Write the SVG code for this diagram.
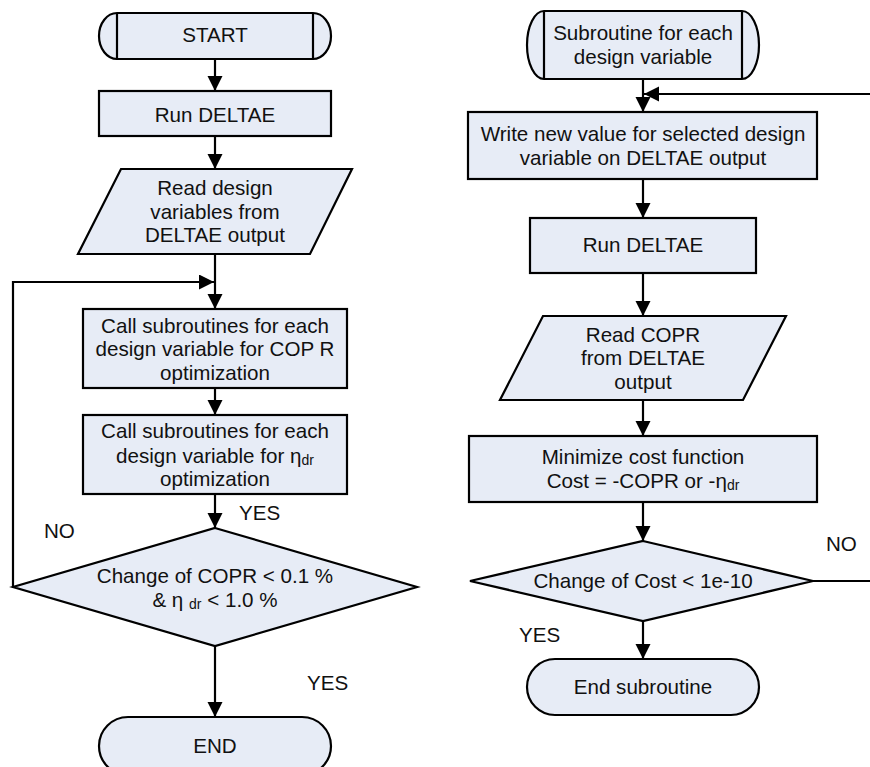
<svg xmlns="http://www.w3.org/2000/svg" width="870" height="767" viewBox="0 0 870 767">
<defs>
<style>
.s{fill:#E7ECF6;stroke:#000;stroke-width:2.2}
.c{fill:none;stroke:#000;stroke-width:2.2}
text{font-family:"Liberation Sans",Arial,sans-serif;font-size:20.6px;fill:#111}
.m{text-anchor:middle}
.sub{font-size:14px}
</style>
<marker id="ah" markerUnits="userSpaceOnUse" markerWidth="16" markerHeight="16" refX="15" refY="7.5" orient="auto">
<path d="M0,0 L15,7.5 L0,15 Z" fill="#000"/>
</marker>
</defs>
<rect width="870" height="767" fill="#fff"/>
<g id="connectors">
<path class="c" d="M215,59 V91" marker-end="url(#ah)"/>
<path class="c" d="M215,136 V169" marker-end="url(#ah)"/>
<path class="c" d="M215,254 V309" marker-end="url(#ah)"/>
<path class="c" d="M13,587 V282 H214" marker-end="url(#ah)"/>
<path class="c" d="M215,388 V415" marker-end="url(#ah)"/>
<path class="c" d="M215,494 V528" marker-end="url(#ah)"/>
<path class="c" d="M215,646 V717" marker-end="url(#ah)"/>
<path class="c" d="M643,79 V112" marker-end="url(#ah)"/>
<path class="c" d="M813,581 H880 V94 H644" marker-end="url(#ah)"/>
<path class="c" d="M643,179 V218" marker-end="url(#ah)"/>
<path class="c" d="M643,273 V316" marker-end="url(#ah)"/>
<path class="c" d="M643,400 V436" marker-end="url(#ah)"/>
<path class="c" d="M643,502 V541" marker-end="url(#ah)"/>
<path class="c" d="M643,621 V659" marker-end="url(#ah)"/>
<text x="239" y="520">YES</text>
<text x="44" y="538">NO</text>
<text x="307" y="690">YES</text>
<text x="826" y="551">NO</text>
<text x="519" y="642">YES</text>
</g>
<g id="start">
<path class="s" d="M117,13 H313 A18,23 0 0 1 313,59 H117 A18,23 0 0 1 117,13 Z"/>
<path class="c" d="M117,13 V59 M313,13 V59"/>
<text class="m" x="215" y="42">START</text>
</g>
<g id="run1">
<rect class="s" x="99" y="91" width="232" height="45"/>
<text class="m" x="215" y="122">Run DELTAE</text>
</g>
<g id="read1">
<path class="s" d="M121,169 H352 L310,254 H78 Z"/>
<text class="m" x="215" y="195">Read design</text>
<text class="m" x="215" y="219">variables from</text>
<text class="m" x="215" y="242">DELTAE output</text>
</g>
<g id="call1">
<rect class="s" x="83" y="309" width="264" height="79"/>
<text class="m" x="215" y="333">Call subroutines for each</text>
<text class="m" x="215" y="356">design variable for COP R</text>
<text class="m" x="215" y="380">optimization</text>
</g>
<g id="call2">
<rect class="s" x="83" y="415" width="264" height="79"/>
<text class="m" x="215" y="438">Call subroutines for each</text>
<text class="m" x="215" y="463">design variable for  η<tspan class="sub" dy="2">dr</tspan></text>
<text class="m" x="215" y="486">optimization</text>
</g>
<g id="check1">
<path class="s" d="M215,528 L417,587 L215,646 L13,587 Z"/>
<text class="m" x="215" y="583">Change of COPR &lt; 0.1 %</text>
<text class="m" x="215" y="607">&amp; η <tspan class="sub" dy="2">dr</tspan><tspan dy="-2"> &lt; 1.0 %</tspan></text>
</g>
<g id="end">
<rect class="s" x="99" y="717" width="232" height="58" rx="29" ry="29"/>
<text class="m" x="215" y="753">END</text>
</g>
<g id="sub_start">
<path class="s" d="M544,11 H742 A17,34 0 0 1 742,79 H544 A17,34 0 0 1 544,11 Z"/>
<path class="c" d="M544,11 V79 M742,11 V79"/>
<text class="m" x="643" y="40">Subroutine for each</text>
<text class="m" x="643" y="64">design variable</text>
</g>
<g id="write">
<rect class="s" x="468" y="112" width="349" height="67"/>
<text class="m" x="643" y="141">Write new value for selected design</text>
<text class="m" x="643" y="165">variable on DELTAE output</text>
</g>
<g id="run2">
<rect class="s" x="530" y="218" width="226" height="55"/>
<text class="m" x="643" y="252">Run DELTAE</text>
</g>
<g id="read2">
<path class="s" d="M543,316 H786 L743,400 H500 Z"/>
<text class="m" x="643" y="342">Read COPR</text>
<text class="m" x="643" y="365">from DELTAE</text>
<text class="m" x="643" y="389">output</text>
</g>
<g id="minimize">
<rect class="s" x="469" y="436" width="348" height="66"/>
<text class="m" x="643" y="464">Minimize cost function</text>
<text class="m" x="643" y="488">Cost = -COPR or -η<tspan class="sub" dy="2">dr</tspan></text>
</g>
<g id="check2">
<path class="s" d="M643,541 L813,581 L643,621 L470,581 Z"/>
<text class="m" x="643" y="588">Change of Cost &lt; 1e-10</text>
</g>
<g id="sub_end">
<rect class="s" x="527" y="659" width="232" height="56" rx="28" ry="28"/>
<text class="m" x="643" y="694">End subroutine</text>
</g>
</svg>
